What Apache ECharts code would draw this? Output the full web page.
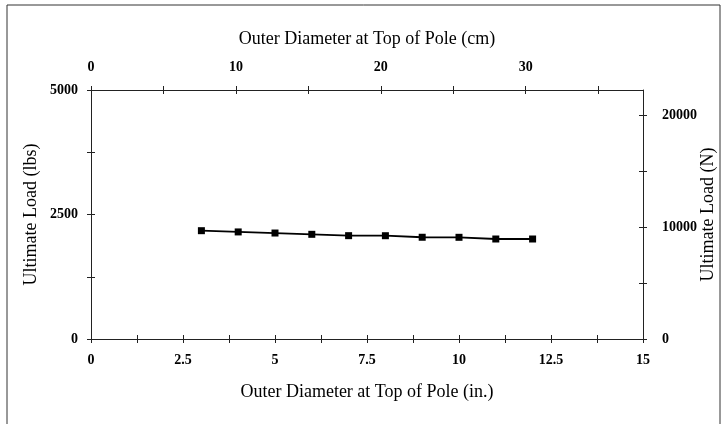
<!DOCTYPE html>
<html><head><meta charset="utf-8">
<script src="https://cdn.jsdelivr.net/npm/echarts@6/dist/echarts.min.js"></script>
<style>html,body{margin:0;padding:0;background:#fff}#c{width:722px;height:424px}</style>
</head><body><div id="c"></div>
<script>
const diameterIn = [3, 4, 5, 6, 7, 8, 9, 10, 11, 12];
const loadLbs = [2175, 2150, 2128, 2102, 2075, 2074, 2043, 2042, 2008, 2008];
const xTitle = 'Outer Diameter at Top of Pole (in.)';
const x2Title = 'Outer Diameter at Top of Pole (cm)';
const yTitle = 'Ultimate Load (lbs)';
const y2Title = 'Ultimate Load (N)';
const IN_TO_CM = 2.54, LB_TO_N = 4.448;
const XMAX = 15, YMAX = 5000;

const font = 'Liberation Serif';
const lab = {fontFamily: font, fontSize: 14, fontWeight: 'bold', color: '#000'};
const nm = {fontFamily: font, fontSize: 18, color: '#000'};
function fmtEvery(step){ return v => (Math.abs(v/step - Math.round(v/step)) < 1e-6 ? String(v) : ''); }
function mk(base, inside, main, gridIndex){
  return Object.assign({}, base, {
    gridIndex: gridIndex,
    show: true,
    nameMoveOverlap: false,
    axisTick: {show: true, inside: inside, length: 4, lineStyle: {color: '#222', width: 1}},
    splitLine: {show: false},
    axisLine: {show: true, onZero: false, lineStyle: {color: '#222', width: 1, opacity: main ? 1 : 0}},
    axisLabel: main ? base.axisLabel : {show: false},
    name: main ? base.name : '',
  });
}
const xb = {type: 'value', position: 'bottom', min: 0, max: XMAX, interval: 1.25,
  name: xTitle, nameLocation: 'middle', nameGap: 44, nameTextStyle: nm,
  axisLabel: Object.assign({margin: 14, formatter: fmtEvery(2.5)}, lab)};
const xt = {type: 'value', position: 'top', min: 0, max: XMAX*IN_TO_CM, interval: 5,
  name: x2Title, nameLocation: 'middle', nameGap: 42, nameTextStyle: nm,
  axisLabel: Object.assign({margin: 16, showMaxLabel: false, formatter: fmtEvery(10)}, lab)};
const yl = {type: 'value', position: 'left', min: 0, max: YMAX, interval: 1250,
  name: yTitle, nameLocation: 'middle', nameGap: 51, nameTextStyle: nm,
  axisLabel: Object.assign({margin: 13, formatter: fmtEvery(2500)}, lab)};
const yr = {type: 'value', position: 'right', min: 0, max: YMAX*LB_TO_N, interval: 5000,
  name: y2Title, nameLocation: 'middle', nameGap: 56, nameTextStyle: nm, nameRotate: 90,
  axisLabel: Object.assign({margin: 19, showMaxLabel: false, formatter: fmtEvery(10000)}, lab)};

const g = {left: 91, right: 79, top: 90, bottom: 85, containLabel: false, outerBoundsMode: 'none'};
const chart = echarts.init(document.getElementById('c'), null, {renderer: 'canvas'});
chart.setOption({
  backgroundColor: '#fff',
  animation: false,
  grid: [Object.assign({}, g), Object.assign({}, g)],
  graphic: [{type: 'rect', shape: {x: 7, y: 5, width: 713, height: 430}, style: {fill: 'none', stroke: '#333', lineWidth: 1}, z: -1}],
  xAxis: [mk(xb, false, true, 0), mk(xt, false, true, 0), mk(xb, true, false, 1), mk(xt, true, false, 1)],
  yAxis: [mk(yl, false, true, 0), mk(yr, false, true, 0), mk(yl, true, false, 1), mk(yr, true, false, 1)],
  series: [{
    type: 'line', xAxisIndex: 0, yAxisIndex: 0,
    data: diameterIn.map((d, i) => [d, loadLbs[i]]),
    symbol: 'rect', symbolSize: 7, showSymbol: true,
    lineStyle: {color: '#000', width: 1.8},
    itemStyle: {color: '#000'}
  }]
});
</script></body></html>
